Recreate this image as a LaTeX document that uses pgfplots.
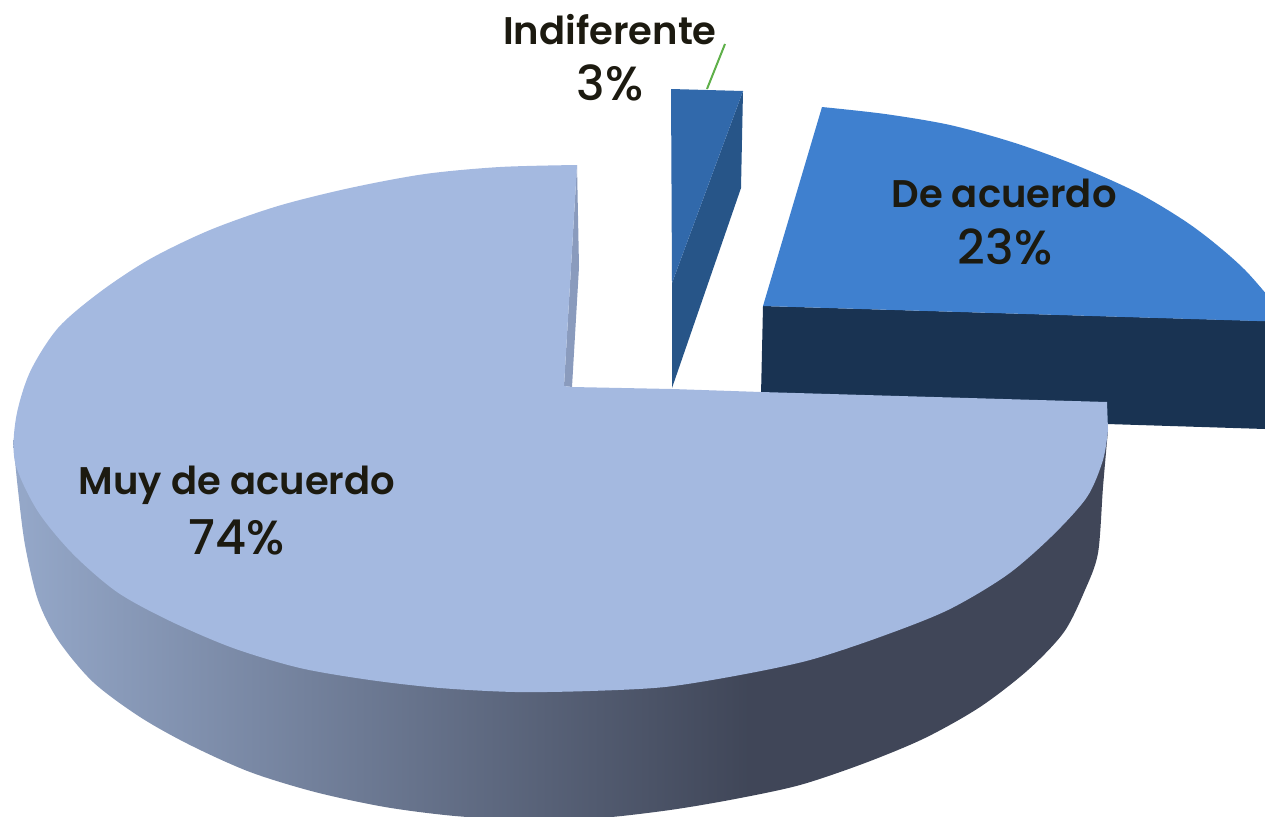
\documentclass[border=0pt]{standalone}
\usepackage{fontspec}
\setmainfont{Poppins SemiBold}
\newfontfamily\pctfont{Poppins Medium}
\usepackage{pgfplots}
\pgfplotsset{compat=1.18}
\definecolor{mainface}{HTML}{A4B9E0}
\definecolor{mainstrip}{HTML}{8A9BBD}
\definecolor{deface}{HTML}{3F80CF}
\definecolor{deside}{HTML}{193352}
\definecolor{indface}{HTML}{3169AB}
\definecolor{indside}{HTML}{275588}
\definecolor{leader}{HTML}{5FB04A}
\definecolor{labeltext}{HTML}{1C1A10}
\pgfdeclarehorizontalshading{sideshade}{100bp}{
  rgb(0bp)=(0.585,0.66,0.79);
  rgb(25bp)=(0.585,0.66,0.79);
  rgb(58.6bp)=(0.25,0.275,0.345);
  rgb(100bp)=(0.25,0.275,0.345)}
\begin{document}
\begin{tikzpicture}
\begin{axis}[
width=1265pt,
height=816pt,
scale only axis,
hide axis,
xmin=0,
xmax=1265,
ymin=0,
ymax=816,
y dir=reverse,
]
% keeps the whole frame in the bounding box
\addplot[draw=none] coordinates {(0,0) (1265,816)};
% De acuerdo
\addplot[draw=none, fill=deside] coordinates {
(763,306) (1265,321) (1265,429) (1107,424) (900,410) (761,395)
} -- cycle;
\addplot[draw=none, fill=deface, smooth] coordinates {
(822,107) (885,114) (950,125) (1015,143) (1078,166) (1140,194)
(1195,228) (1245,270) (1290,323)
} -- (axis cs:1290,322) -- (axis cs:763,306) -- cycle;
% Indiferente
\addplot[draw=none, fill=indside] coordinates {
(743,91) (741,188) (672,388) (672,283)
} -- cycle;
\addplot[draw=none, fill=indface] coordinates {
(671,89) (743,91) (672,283)
} -- cycle;
\addplot[leader, line width=2pt] coordinates {(725,44) (707,89)};
% Muy de acuerdo, side then top
\addplot[draw=none, shade, shading=sideshade, smooth] coordinates {
(13,440) (18,490) (25,545) (38,600) (58,640) (93,682) (140,717) (190,745)
(250,772) (315,792) (385,807) (455,816) (530,820) (600,818) (670,810) (735,799)
(800,785) (865,763) (925,738) (980,707) (1028,670) (1064,632) (1085,590)
(1098,553) (1103,487) (1108,430)
} -- cycle;
\addplot[draw=none, fill=mainstrip] coordinates {
(577,165) (579,267) (572,387) (564,386)
} -- cycle;
\addplot[draw=none, fill=mainface, smooth] coordinates {
(577,165) (500,167) (425,174) (350,188) (278,206) (210,230) (150,259)
(100,292) (58,328) (30,372) (16,418) (15,462) (37,510) (72,553) (117,592)
(170,621) (233,648) (300,668) (370,680) (440,688) (515,692) (590,691)
(665,687) (740,675) (810,660) (880,637) (948,610) (1007,575) (1052,536)
(1087,497) (1103,460) (1108,430)
} -- (axis cs:1107,402) -- (axis cs:761,392) -- (axis cs:672,389)
  -- (axis cs:572,387) -- (axis cs:564,386) -- cycle;
% labels
\node[text=labeltext, font=\fontsize{38.5}{38.5}\selectfont] at (axis cs:610,30) {Indiferente};
\node[text=labeltext, font=\fontsize{48}{48}\selectfont\pctfont] at (axis cs:610,83) {3\%};
\node[text=labeltext, font=\fontsize{38.5}{38.5}\selectfont] at (axis cs:1004,193) {De acuerdo};
\node[text=labeltext, font=\fontsize{48}{48}\selectfont\pctfont] at (axis cs:1005,247) {23\%};
\node[text=labeltext, font=\fontsize{38.5}{38.5}\selectfont] at (axis cs:237,485) {Muy de acuerdo};
\node[text=labeltext, font=\fontsize{48}{48}\selectfont\pctfont] at (axis cs:237,537) {74\%};
\end{axis}
\end{tikzpicture}
\end{document}
